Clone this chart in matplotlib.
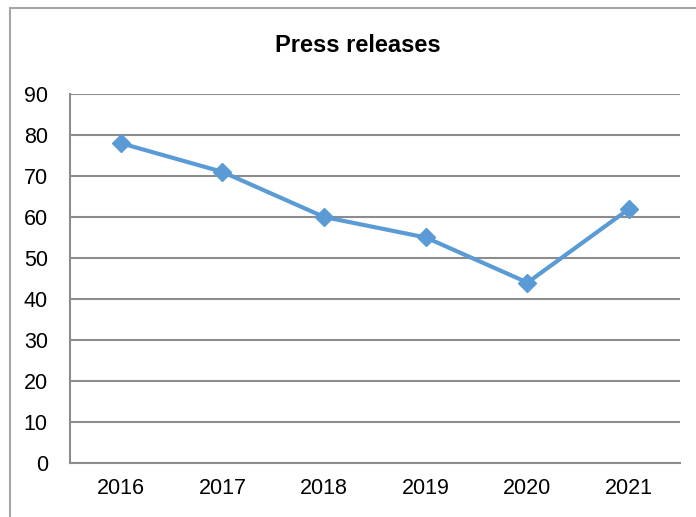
import matplotlib.pyplot as plt
from matplotlib.patches import Rectangle

years = ["2016", "2017", "2018", "2019", "2020", "2021"]
releases = [78, 71, 60, 55, 44, 62]
yticks = [0, 10, 20, 30, 40, 50, 60, 70, 80, 90]

plt.rcParams['font.family'] = ['Liberation Sans', 'DejaVu Sans']

fig = plt.figure(figsize=(6.96, 5.17), dpi=100)
# outer chart border (grey frame, runs off the right and bottom edges)
fig.patches.append(Rectangle((10 / 696, -0.1), 1.0, (517 - 7.5) / 517 + 0.1,
                             transform=fig.transFigure, fill=False,
                             edgecolor='#a6a6a6', linewidth=1.5))

ax = fig.add_axes([70 / 696, (517 - 463) / 517, 610 / 696, (463 - 94) / 517])

x = [i + 0.5 for i in range(len(years))]
ax.plot(x, releases, color='#5b9bd5', linewidth=3, marker='D', markersize=9,
        markeredgecolor='#5b9bd5', markerfacecolor='#5b9bd5', zorder=3)

ax.set_xlim(0, len(years))
ax.set_ylim(0, 90)
ax.set_yticks(yticks)
ax.set_xticks(x)
ax.set_xticklabels(years)
ax.yaxis.grid(True, color='#8c8c8c', linewidth=1.5)
ax.set_axisbelow(True)
ax.tick_params(length=0, labelsize=15.5, pad=11)
ax.tick_params(axis='y', pad=16)

for s in ['top', 'right']:
    ax.spines[s].set_visible(False)
for s in ['left', 'bottom']:
    ax.spines[s].set_color('#8c8c8c')
    ax.spines[s].set_linewidth(1.5)

fig.text(358 / 696, 1 - 45 / 517, "Press releases", ha='center', va='center',
         fontsize=17, fontweight='bold')

fig.savefig("out.png", dpi=100)
